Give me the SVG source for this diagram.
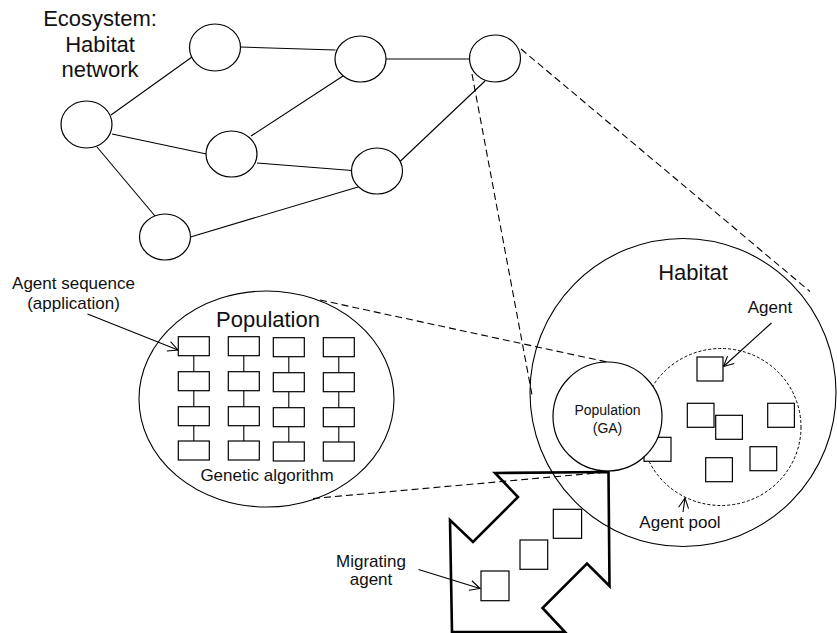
<svg xmlns="http://www.w3.org/2000/svg" width="837" height="633" viewBox="0 0 837 633">
<style>
text{font-family:"Liberation Sans",Arial,Helvetica,sans-serif;fill:#111;}
.n{fill:#fff;stroke:#000;stroke-width:1.2;}
.o{fill:none;stroke:#000;stroke-width:1.1;}
.l{stroke:#000;stroke-width:1.1;fill:none;}
.d{stroke:#000;stroke-width:1.1;fill:none;stroke-dasharray:7 4;}
.dp{stroke:#000;stroke-width:1;fill:none;stroke-dasharray:3 2;}
.sq{fill:#fff;stroke:#000;stroke-width:1.2;}
.t17{font-size:17px;}
.t22{font-size:22px;}
.t14{font-size:14px;}
</style>
<defs>
<marker id="ah" viewBox="0 0 12 12" refX="11" refY="6" markerWidth="12" markerHeight="12" markerUnits="userSpaceOnUse" orient="auto">
<path d="M1,1 L11,6 L1,11" fill="none" stroke="#000" stroke-width="1.1"/>
</marker>
</defs>

<g id="label-ecosystem">
<text class="t22" x="100" y="26" text-anchor="middle">Ecosystem:</text>
<text class="t22" x="100" y="51.5" text-anchor="middle">Habitat</text>
<text class="t22" x="100" y="77" text-anchor="middle">network</text>
</g>

<g id="connectors">
<line class="l" x1="192" y1="57" x2="111" y2="115"/>
<line class="l" x1="240.5" y1="47" x2="335.5" y2="50"/>
<line class="l" x1="386" y1="59" x2="469.5" y2="59"/>
<line class="l" x1="343" y1="76" x2="251" y2="136"/>
<line class="l" x1="112" y1="134" x2="206.5" y2="154"/>
<line class="l" x1="97" y1="147" x2="155" y2="216"/>
<line class="l" x1="257" y1="163" x2="352" y2="170.5"/>
<line class="l" x1="190.5" y1="237" x2="358" y2="187"/>
<line class="l" x1="400" y1="161.5" x2="485" y2="81"/>
<line class="d" x1="521" y1="49" x2="810" y2="291.5"/>
<line class="d" x1="472" y1="74" x2="532" y2="395"/>
<line class="d" x1="320" y1="300" x2="607" y2="362"/>
<line class="d" x1="313" y1="498.5" x2="607.5" y2="472"/>
<line class="l" x1="87.5" y1="314" x2="178" y2="350" marker-end="url(#ah)"/>
<line class="l" x1="771.5" y1="323" x2="723.5" y2="366.5" marker-end="url(#ah)"/>
<line class="l" x1="683" y1="512" x2="685" y2="498" marker-end="url(#ah)"/>
<line class="l" x1="418.5" y1="569.5" x2="480" y2="588.5" marker-end="url(#ah)"/>
</g>

<g id="habitat-network">
<ellipse id="h1" class="n" cx="215" cy="47.5" rx="25.5" ry="23.5"/>
<ellipse id="h2" class="n" cx="360.5" cy="59" rx="25.5" ry="23"/>
<ellipse id="h3" class="n" cx="495" cy="58.5" rx="25.5" ry="23.5"/>
<ellipse id="h4" class="n" cx="86.5" cy="124.5" rx="25.5" ry="23.5"/>
<ellipse id="h5" class="n" cx="231.5" cy="154" rx="25.5" ry="23"/>
<ellipse id="h6" class="n" cx="377" cy="171" rx="25.5" ry="23"/>
<ellipse id="h7" class="n" cx="165" cy="237" rx="25.5" ry="23"/>
</g>

<g id="population">
<ellipse class="o" cx="266.5" cy="399" rx="127.5" ry="108"/>
<text class="t22" x="268" y="327" text-anchor="middle">Population</text>
<g id="seq-lines">
<line class="l" x1="193.8" y1="355.7" x2="193.8" y2="441"/>
<line class="l" x1="243.8" y1="355.7" x2="243.8" y2="441"/>
<line class="l" x1="288.8" y1="356.7" x2="288.8" y2="442"/>
<line class="l" x1="338.8" y1="356.7" x2="338.8" y2="442"/>
</g>
<g id="seq1">
<rect class="sq" x="178.3" y="336.7" width="31" height="19"/>
<rect class="sq" x="178.3" y="371.7" width="31" height="19"/>
<rect class="sq" x="178.3" y="406.7" width="31" height="19"/>
<rect class="sq" x="178.3" y="441" width="31" height="19"/>
</g>
<g id="seq2">
<rect class="sq" x="228.3" y="336.7" width="31" height="19"/>
<rect class="sq" x="228.3" y="371.7" width="31" height="19"/>
<rect class="sq" x="228.3" y="406.7" width="31" height="19"/>
<rect class="sq" x="228.3" y="441" width="31" height="19"/>
</g>
<g id="seq3">
<rect class="sq" x="273.3" y="337.7" width="31" height="19"/>
<rect class="sq" x="273.3" y="372.7" width="31" height="19"/>
<rect class="sq" x="273.3" y="407.7" width="31" height="19"/>
<rect class="sq" x="273.3" y="442" width="31" height="19"/>
</g>
<g id="seq4">
<rect class="sq" x="323.3" y="337.7" width="31" height="19"/>
<rect class="sq" x="323.3" y="372.7" width="31" height="19"/>
<rect class="sq" x="323.3" y="407.7" width="31" height="19"/>
<rect class="sq" x="323.3" y="442" width="31" height="19"/>
</g>
<text class="t17" x="267" y="481" text-anchor="middle">Genetic algorithm</text>
</g>

<g id="label-agent-sequence">
<text class="t17" x="73.5" y="289" text-anchor="middle">Agent sequence</text>
<text class="t17" x="73.5" y="309" text-anchor="middle">(application)</text>
</g>

<g id="habitat">
<ellipse class="o" cx="683" cy="392.5" rx="153" ry="154"/>
<text class="t22" x="693" y="280" text-anchor="middle">Habitat</text>
</g>

<g id="agent-pool">
<ellipse class="dp" cx="721" cy="427" rx="80" ry="78.5"/>
<rect class="sq" x="644" y="437.3" width="27" height="24"/>
<rect class="sq" x="697" y="357" width="26" height="24"/>
<rect class="sq" x="687.3" y="403.3" width="26.7" height="24"/>
<rect class="sq" x="715.7" y="415.3" width="26.7" height="24"/>
<rect class="sq" x="767.7" y="403.3" width="26.7" height="24"/>
<rect class="sq" x="750" y="446.7" width="26.7" height="24"/>
<rect class="sq" x="705.7" y="457.7" width="26.7" height="24"/>
<text class="t17" x="680" y="528" text-anchor="middle">Agent pool</text>
</g>

<g id="label-agent">
<text class="t17" x="770" y="313" text-anchor="middle">Agent</text>
</g>

<g id="population-ga">
<circle class="n" cx="607.5" cy="416.5" r="54.5"/>
<text class="t14" x="607.5" y="415" text-anchor="middle">Population</text>
<text class="t14" x="607.5" y="433" text-anchor="middle">(GA)</text>
</g>

<g id="migration">
<polygon points="495,473 608.5,472 609.5,586 587,563.5 542.5,608 565,632 452,632 450,520 473,542 518,497" fill="none" stroke="#000" stroke-width="2.6" stroke-linejoin="miter"/>
<rect class="sq" x="553.3" y="509.3" width="28.3" height="29"/>
<rect class="sq" x="520" y="540" width="27.7" height="29.3"/>
<rect class="sq" x="481" y="571" width="28" height="29.7"/>
</g>

<g id="label-migrating">
<text class="t17" x="371" y="567" text-anchor="middle">Migrating</text>
<text class="t17" x="371" y="585" text-anchor="middle">agent</text>
</g>
</svg>
